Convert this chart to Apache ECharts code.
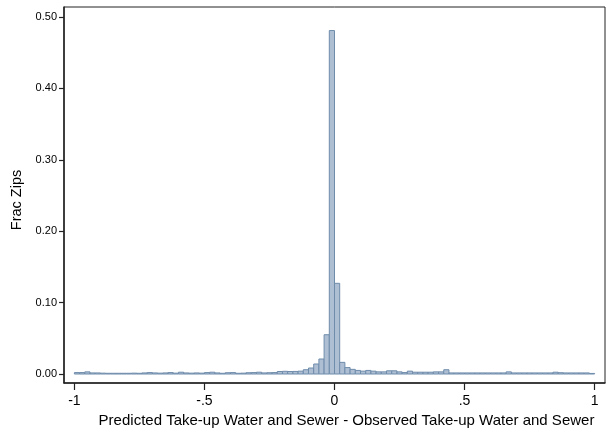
<!DOCTYPE html>
<html>
<head>
<meta charset="utf-8">
<script src="https://cdn.jsdelivr.net/npm/echarts@6/dist/echarts.min.js"></script>
<style>html,body{margin:0;padding:0;background:#fff;}#c{width:609px;height:430px;}</style>
</head>
<body>
<div id="c"></div>
<script>
// Histogram: 100 bins of width 0.02 from -1 to 1
const binStart = -1;
const binWidth = 0.02;
const fractions = [
  0.0020, 0.0020, 0.0030, 0.0015, 0.0015, 0.0012, 0.0010, 0.0010, 0.0010, 0.0010,
  0.0010, 0.0012, 0.0010, 0.0015, 0.0020, 0.0015, 0.0012, 0.0015, 0.0020, 0.0012,
  0.0025, 0.0015, 0.0012, 0.0015, 0.0012, 0.0020, 0.0025, 0.0015, 0.0010, 0.0018,
  0.0020, 0.0010, 0.0012, 0.0018, 0.0020, 0.0025, 0.0015, 0.0018, 0.0020, 0.0035,
  0.0038, 0.0035, 0.0036, 0.0040, 0.0060, 0.0084, 0.0140, 0.0210, 0.0550, 0.4810,
  0.1270, 0.0163, 0.0090, 0.0065, 0.0050, 0.0040, 0.0050, 0.0040, 0.0030, 0.0030,
  0.0045, 0.0045, 0.0030, 0.0020, 0.0040, 0.0025, 0.0025, 0.0025, 0.0025, 0.0030,
  0.0030, 0.0060, 0.0015, 0.0015, 0.0015, 0.0015, 0.0015, 0.0015, 0.0015, 0.0015,
  0.0015, 0.0015, 0.0015, 0.0030, 0.0015, 0.0015, 0.0015, 0.0015, 0.0015, 0.0015,
  0.0015, 0.0015, 0.0025, 0.0018, 0.0015, 0.0015, 0.0015, 0.0015, 0.0015, 0.0008
];
const xTicks = [-1, -0.5, 0, 0.5, 1];
const xTickLabels = ['-1', '-.5', '0', '.5', '1'];
const yTicks = [0, 0.1, 0.2, 0.3, 0.4, 0.5];
const yTickLabels = ['0.00', '0.10', '0.20', '0.30', '0.40', '0.50'];

const barData = fractions.map((f, i) => {
  const x0 = binStart + i * binWidth;
  return [x0, x0 + binWidth, f];
});

const chart = echarts.init(document.getElementById('c'), null, {renderer: 'canvas'});
const font = 'Liberation Sans, Arial, sans-serif';
chart.setOption({
  animation: false,
  backgroundColor: '#ffffff',
  grid: {left: 64, top: 7, right: 4, bottom: 47, containLabel: false, outerBoundsMode: 'none',
    show: true, borderColor: '#222', borderWidth: 1, backgroundColor: 'transparent'},
  xAxis: {
    type: 'value', min: -1.04, max: 1.04,
    name: 'Predicted Take-up Water and Sewer - Observed Take-up Water and Sewer',
    nameLocation: 'middle', nameGap: 25,
    nameTextStyle: {fontFamily: font, fontSize: 15, color: '#000', padding: [0, 0, 0, 24]},
    axisLine: {show: true, onZero: false, lineStyle: {color: '#222', width: 1.5}},
    axisTick: {show: true, length: 7, customValues: xTicks, lineStyle: {color: '#222', width: 1.2}},
    axisLabel: {customValues: xTicks, fontFamily: font, fontSize: 14, color: '#000', margin: 11,
      formatter: v => { const k = xTicks.findIndex(t => Math.abs(t - v) < 1e-9); return k >= 0 ? xTickLabels[k] : ''; }},
    splitLine: {show: false}
  },
  yAxis: {
    type: 'value', min: -0.0126, max: 0.514,
    name: 'Frac Zips', nameLocation: 'middle', nameGap: 33, nameRotate: 90,
    nameTextStyle: {fontFamily: font, fontSize: 14.5, color: '#000', padding: [0, 10, 0, 0]},
    axisLine: {show: true, onZero: false, lineStyle: {color: '#222', width: 1.5}},
    axisTick: {show: true, length: 5, customValues: yTicks, lineStyle: {color: '#222', width: 1.2}},
    axisLabel: {customValues: yTicks, fontFamily: font, fontSize: 11, color: '#000', margin: 7,
      formatter: v => { const k = yTicks.findIndex(t => Math.abs(t - v) < 1e-9); return k >= 0 ? yTickLabels[k] : ''; }},
    splitLine: {show: false}
  },
  series: [{
    type: 'custom',
    data: barData,
    encode: {x: [0, 1], y: 2},
    renderItem: function (params, api) {
      const p0 = api.coord([api.value(0), api.value(2)]);
      const p1 = api.coord([api.value(1), 0]);
      return {
        type: 'rect',
        shape: {x: p0[0], y: p0[1], width: p1[0] - p0[0], height: p1[1] - p0[1]},
        style: {fill: '#aebfd4', stroke: '#6f8cab', lineWidth: 1}
      };
    }
  }]
});
</script>
</body>
</html>
